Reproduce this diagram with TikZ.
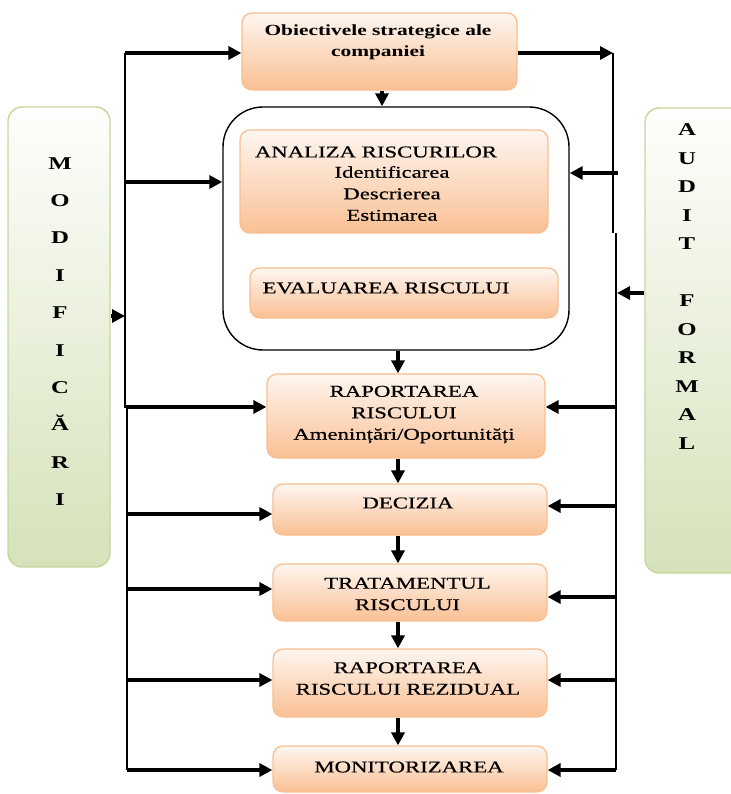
\documentclass[tikz,border=0pt]{standalone}
\usepackage{fontspec}
\setmainfont{Liberation Serif}[FakeStretch=1.38]
\newfontfamily\boxfont{Liberation Serif}[FakeStretch=1.38, FakeBold=0.6]
\usetikzlibrary{arrows.meta}

\definecolor{peachtop}{RGB}{254,246,240}
\definecolor{peachbot}{RGB}{250,192,148}
\definecolor{peachline}{RGB}{249,190,142}
\definecolor{sagetop}{RGB}{254,254,252}
\definecolor{sagebot}{RGB}{213,226,186}
\definecolor{sageline}{RGB}{196,215,158}

\tikzset{
  orangebox/.style={draw=peachline, line width=1.2pt, rounded corners=10pt,
    top color=peachtop, bottom color=peachbot, inner sep=0pt},
  sagebox/.style={draw=sageline, line width=1.4pt, rounded corners=14pt,
    top color=sagetop, bottom color=sagebot, inner sep=0pt},
  holder/.style={draw=black, line width=1.4pt, rounded corners=40pt, fill=white, inner sep=0pt},
  lbl/.style={inner sep=0pt, align=center, font=\boxfont\fontsize{16.5pt}{21.5pt}\selectfont},
  toplbl/.style={inner sep=0pt, align=center, font=\bfseries\fontsize{15.5pt}{21pt}\selectfont},
  column/.style={inner sep=0pt, align=center, font=\bfseries\fontsize{18pt}{#1}\selectfont},
  flow/.style={line width=3.4pt, -{Triangle[length=13pt,width=13pt]}},
  rail/.style={line width=2.5pt},
}

\begin{document}
\begin{tikzpicture}[x=1pt,y=-1pt]
\useasboundingbox (0,0) rectangle (730,794);

% side panels
\node[sagebox, minimum width=102pt, minimum height=460pt] (mod) at (59,337) {};
\node[column=37.4pt] (modtxt) at (60,331.5) {M\\O\\D\\I\\F\\I\\C\\Ă\\R\\I};
\node[sagebox, minimum width=100pt, minimum height=465pt] (aud) at (695,340.5) {};
\node[column=28.5pt] (audtxt) at (687,286.5) {A\\U\\D\\I\\T\\\mbox{}\\F\\O\\R\\M\\A\\L};

% process boxes
\node[orangebox, minimum width=275pt, minimum height=77pt] (top) at (379.5,51.5) {};
\node[toplbl] (toptxt) at (378,42.5) {Obiectivele strategice ale\\companiei};

\node[holder, minimum width=346pt, minimum height=243pt] (cont) at (396,228.5) {};
\node[orangebox, minimum width=308pt, minimum height=103pt] (anal) at (394,181.5) {};
\node[lbl] (analhead) at (376,152) {ANALIZA RISCURILOR};
\node[lbl] (analsteps) at (392,193.5) {Identificarea\\Descrierea\\Estimarea};
\node[orangebox, minimum width=308pt, minimum height=50pt] (eval) at (404,293) {};
\node[lbl] (evaltxt) at (386,288) {EVALUAREA RISCULUI};

\node[orangebox, minimum width=278pt, minimum height=84pt] (rap) at (406,416) {};
\node[lbl] (raptxt) at (404,414.5) {RAPORTAREA\\RISCULUI\\Amenințări/Oportunități};
\node[orangebox, minimum width=274pt, minimum height=51pt] (dec) at (410,509.5) {};
\node[lbl] (dectxt) at (408,503) {DECIZIA};
\node[orangebox, minimum width=274pt, minimum height=57pt] (trat) at (410,592.5) {};
\node[lbl] (trattxt) at (407.5,594) {TRATAMENTUL\\RISCULUI};
\node[orangebox, minimum width=274pt, minimum height=68pt] (rez) at (410,683) {};
\node[lbl] (reztxt) at (408,678.5) {RAPORTAREA\\RISCULUI REZIDUAL};
\node[orangebox, minimum width=274pt, minimum height=46pt] (mon) at (410,769) {};
\node[lbl] (montxt) at (409,767) {MONITORIZAREA};

% left rail
\coordinate (lt) at (125,53);
\coordinate (lm) at (125,408);
\coordinate (lm2) at (127,408);
\coordinate (lb) at (127,770);
\draw[rail] (lt) -- (lm);
\draw[rail] (lm2) -- (lb);

% right rail
\coordinate (rt) at (613,53);
\coordinate (rm) at (613,233);
\coordinate (rm2) at (616,233);
\coordinate (rb) at (616,770);
\draw[rail] (rt) -- (rm);
\draw[rail] (rm2) -- (rb);

% main flow down the middle
\coordinate (spine) at (398,0);
\draw[flow] ([xshift=2.5pt]top.south) -- ([xshift=2.5pt]top.south |- cont.north);
\draw[flow] (cont.south -| spine) -- (rap.north -| spine);
\draw[flow] (rap.south -| spine) -- (dec.north -| spine);
\draw[flow] (dec.south -| spine) -- (trat.north -| spine);
\draw[flow] (trat.south -| spine) -- (rez.north -| spine);
\draw[flow] (rez.south -| spine) -- (mon.north -| spine);

% feeds from the left rail
\coordinate (l1) at (125,53);
\coordinate (l2) at (125,182);
\coordinate (l3) at (126,407);
\coordinate (l4) at (127,514);
\coordinate (l5) at (127,589);
\coordinate (l6) at (127,680);
\coordinate (l7) at (127,770);
\draw[flow] (l1) -- (l1 -| top.west);
\draw[flow] (l2) -- (l2 -| cont.west);
\draw[flow] (l3) -- (l3 -| rap.west);
\draw[flow] (l4) -- (l4 -| dec.west);
\draw[flow] (l5) -- (l5 -| trat.west);
\draw[flow] (l6) -- (l6 -| rez.west);
\draw[flow] (l7) -- (l7 -| mon.west);

% feeds from the right rail
\coordinate (r2) at (618,173);
\coordinate (r3) at (616,407);
\coordinate (r4) at (616,506);
\coordinate (r5) at (616,597);
\coordinate (r6) at (616,680);
\coordinate (r7) at (616,770);
\draw[flow] (top.east |- rt) -- (rt);
\draw[flow] (r2) -- (r2 -| cont.east);
\draw[flow] (r3) -- (r3 -| rap.east);
\draw[flow] (r4) -- (r4 -| dec.east);
\draw[flow] (r5) -- (r5 -| trat.east);
\draw[flow] (r6) -- (r6 -| rez.east);
\draw[flow] (r7) -- (r7 -| mon.east);

% side panels into the rails
\coordinate (lmod) at (125,316);
\coordinate (raud) at (617,293);
\draw[flow] (mod.east |- lmod) -- (lmod);
\draw[flow] (aud.west |- raud) -- (raud);
\end{tikzpicture}
\end{document}
